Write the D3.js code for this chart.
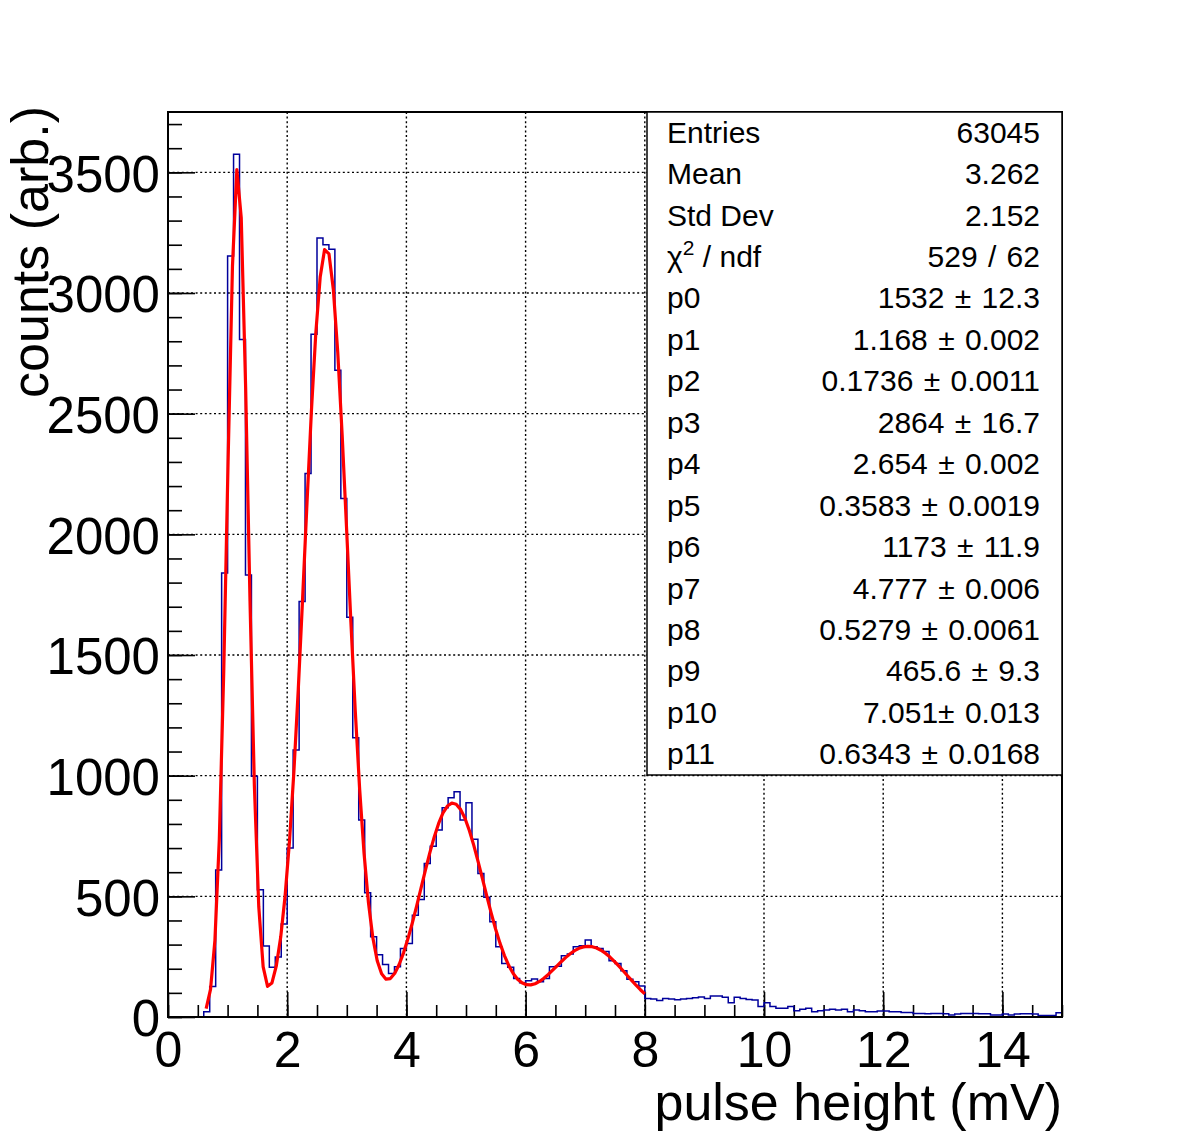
<!DOCTYPE html>
<html>
<head>
    <meta charset="UTF-8">
    <title>pulse height</title>
    <style>
        body { margin: 0; background: #fff; }
        text { font-family: "Liberation Sans", Arial, Helvetica, sans-serif; fill: #000; }
        .grid line { stroke: #000; stroke-width: 1.4; stroke-dasharray: 2,2.6; }
        .axis path { display: none; }
        .axis line { stroke: #000; stroke-width: 1.6; }
    </style>
</head>
<body>
<script src="https://cdn.jsdelivr.net/npm/d3@7"></script>
<script>
    // bin contents, 0.1 mV bins from 0 to 15 mV
    var binLow = 0, binWidth = 0.1;
    var counts = [
        0, 0, 0, 0, 0, 0, 22, 126, 609, 1840,          // 0.0 - 0.9
        3153, 3575, 2807, 1832, 998, 527, 294, 206, 249, 385,   // 1.0 - 1.9
        700, 1106, 1722, 2252, 2829, 3228, 3200, 3181, 2680, 2148, // 2.0 - 2.9
        1656, 1157, 816, 515, 333, 258, 218, 180, 208, 284,     // 3.0 - 3.9
        305, 422, 487, 636, 708, 775, 867, 908, 933, 816,       // 4.0 - 4.9
        888, 737, 595, 496, 395, 291, 222, 206, 160, 142,       // 5.0 - 5.9
        150, 157, 146, 160, 208, 210, 254, 261, 291, 295,       // 6.0 - 6.9
        319, 291, 284, 271, 233, 222, 192, 156, 146, 128,       // 7.0 - 7.9
        77, 75, 68, 77, 75, 71, 75, 77, 80, 83,                 // 8.0 - 8.9
        77, 87, 87, 82, 59, 82, 77, 73, 70, 43,                 // 9.0 - 9.9
        59, 43, 36, 36, 43, 26, 32, 36, 22, 26,                 // 10.0 - 10.9
        29, 32, 29, 32, 22, 29, 26, 22, 22, 25,                 // 11.0 - 11.9
        25, 22, 22, 19, 19, 15, 15, 13, 15, 15,                 // 12.0 - 12.9
        13, 8, 12, 15, 15, 15, 13, 13, 8, 8,                    // 13.0 - 13.9
        12, 8, 12, 13, 13, 12, 6, 6, 6, 18                      // 14.0 - 14.9
    ];

    // fit parameters from the stats box (4 normalised gaussians)
    var fitAmp = [1532, 2864, 1173, 465.6];
    var fitMean = [1.168, 2.654, 4.777, 7.051];
    var fitSigma = [0.1736, 0.3583, 0.5279, 0.6343];
    var fitRange = [0.64, 8.0];

    // stats box rows
    var statLabels = ["Entries", "Mean", "Std Dev", "chi2", "p0", "p1", "p2", "p3", "p4", "p5", "p6", "p7", "p8", "p9", "p10", "p11"];
    var statValues = ["63045", "3.262", "2.152", "529 / 62", "1532 \u00b1 12.3", "1.168 \u00b1 0.002", "0.1736 \u00b1 0.0011",
        "2864 \u00b1 16.7", "2.654 \u00b1 0.002", "0.3583 \u00b1 0.0019", "1173 \u00b1 11.9", "4.777 \u00b1 0.006",
        "0.5279 \u00b1 0.0061", "465.6 \u00b1 9.3", "7.051\u00b1 0.013", "0.6343 \u00b1 0.0168"];

    var xTicks = [0, 2, 4, 6, 8, 10, 12, 14];
    var yTicks = [0, 500, 1000, 1500, 2000, 2500, 3000, 3500];

    // margin convention
    var margin = {top: 112, right: 120, bottom: 115, left: 168}
        , width = 1182 - margin.left - margin.right
        , height = 1132 - margin.top - margin.bottom;

    var xScale = d3.scaleLinear().domain([0, 15]).range([0, width]);
    var yScale = d3.scaleLinear().domain([0, 3750]).range([height, 0]);

    var root = d3.select("body").append("svg")
        .attr("width", 1182)
        .attr("height", 1132);

    var svg = root.append("g")
        .attr("transform", "translate(" + margin.left + "," + margin.top + ")");

    svg.append("clipPath").attr("id", "clip")
        .append("rect").attr("width", width).attr("height", height);

    // grid
    svg.append("g").attr("class", "grid")
        .selectAll("line").data(xTicks.slice(1))
        .enter().append("line")
        .attr("x1", function (d) { return xScale(d); })
        .attr("x2", function (d) { return xScale(d); })
        .attr("y1", 0).attr("y2", height);
    svg.append("g").attr("class", "grid")
        .selectAll("line").data(yTicks.slice(1))
        .enter().append("line")
        .attr("y1", function (d) { return yScale(d); })
        .attr("y2", function (d) { return yScale(d); })
        .attr("x1", 0).attr("x2", width);

    // x axis: major + minor ticks pointing inward
    svg.append("g")
        .attr("class", "x axis")
        .attr("transform", "translate(0," + height + ")")
        .call(d3.axisBottom(xScale).tickValues(d3.range(0, 15.01, 0.5)).tickSize(-12).tickFormat(""));
    var xAxis = svg.append("g")
        .attr("class", "x axis")
        .attr("transform", "translate(0," + height + ")")
        .call(d3.axisBottom(xScale).tickValues(xTicks).tickSize(-25).tickFormat(d3.format("d")));
    xAxis.selectAll("text")
        .attr("dy", null)
        .attr("y", 50)
        .style("font-size", "50px");

    // y axis
    svg.append("g")
        .attr("class", "y axis")
        .call(d3.axisLeft(yScale).tickValues(d3.range(0, 3701, 100)).tickSize(-14).tickFormat(""));
    var yAxis = svg.append("g")
        .attr("class", "y axis")
        .call(d3.axisLeft(yScale).tickValues(yTicks).tickSize(-27).tickFormat(d3.format("d")));
    yAxis.selectAll("text")
        .attr("x", -8)
        .attr("dy", "0.37em")
        .style("font-size", "51px");

    // histogram outline
    var steps = counts.map(function (c, i) { return {x: binLow + i * binWidth, y: c}; });
    steps.push({x: binLow + counts.length * binWidth, y: counts[counts.length - 1]});
    var histLine = d3.line()
        .x(function (d) { return xScale(d.x); })
        .y(function (d) { return yScale(d.y); })
        .curve(d3.curveStepAfter);
    svg.append("path")
        .datum(steps)
        .attr("clip-path", "url(#clip)")
        .attr("fill", "none")
        .attr("stroke", "#00009c")
        .attr("stroke-width", 1.5)
        .attr("d", histLine);

    // fit function, drawn with 100 segments like ROOT
    function fitFunc(x) {
        var s = 0;
        for (var k = 0; k < fitAmp.length; k++) {
            var z = (x - fitMean[k]) / fitSigma[k];
            s += fitAmp[k] / (fitSigma[k] * Math.sqrt(2 * Math.PI)) * Math.exp(-0.5 * z * z);
        }
        return s;
    }
    var fitPts = d3.range(0, 101).map(function (i) {
        var x = fitRange[0] + i * (fitRange[1] - fitRange[0]) / 100;
        return {x: x, y: fitFunc(x)};
    });
    svg.append("path")
        .datum(fitPts)
        .attr("fill", "none")
        .attr("stroke", "#ff0000")
        .attr("stroke-width", 3.2)
        .attr("stroke-linejoin", "round")
        .attr("d", d3.line().x(function (d) { return xScale(d.x); }).y(function (d) { return yScale(d.y); }));

    // stats box
    var box = {x: 647, y: 112, w: 415, h: 663};
    var rowH = box.h / statLabels.length;
    root.append("rect")
        .attr("x", box.x).attr("y", box.y)
        .attr("width", box.w).attr("height", box.h)
        .attr("fill", "#fff")
        .attr("stroke", "#000")
        .attr("stroke-width", 1.5);

    var rows = root.append("g").selectAll("g")
        .data(statLabels)
        .enter().append("g")
        .attr("transform", function (d, i) { return "translate(0," + (box.y + (i + 0.5) * rowH + 10) + ")"; });
    rows.append("text")
        .attr("x", 667)
        .style("font-size", "30px")
        .each(function (d) {
            var t = d3.select(this);
            if (d === "chi2") {
                t.append("tspan").text("\u03c7");
                t.append("tspan").attr("dy", -12).style("font-size", "21px").text("2");
                t.append("tspan").attr("dy", 12).text(" / ndf");
            } else {
                t.text(d);
            }
        });
    rows.append("text")
        .attr("x", 1040)
        .attr("text-anchor", "end")
        .style("font-size", "30px")
        .style("word-spacing", "2px")
        .text(function (d, i) { return statValues[i]; });

    // frame
    svg.append("rect")
        .attr("width", width).attr("height", height)
        .attr("fill", "none")
        .attr("stroke", "#000")
        .attr("stroke-width", 2);

    // axis titles
    root.append("text")
        .attr("x", 1062).attr("y", 1120)
        .attr("text-anchor", "end")
        .style("font-size", "52px")
        .text("pulse height (mV)");
    root.append("text")
        .attr("transform", "translate(48,106) rotate(-90)")
        .attr("text-anchor", "end")
        .style("font-size", "52px")
        .text("counts (arb.)");
</script>
</body>
</html>
